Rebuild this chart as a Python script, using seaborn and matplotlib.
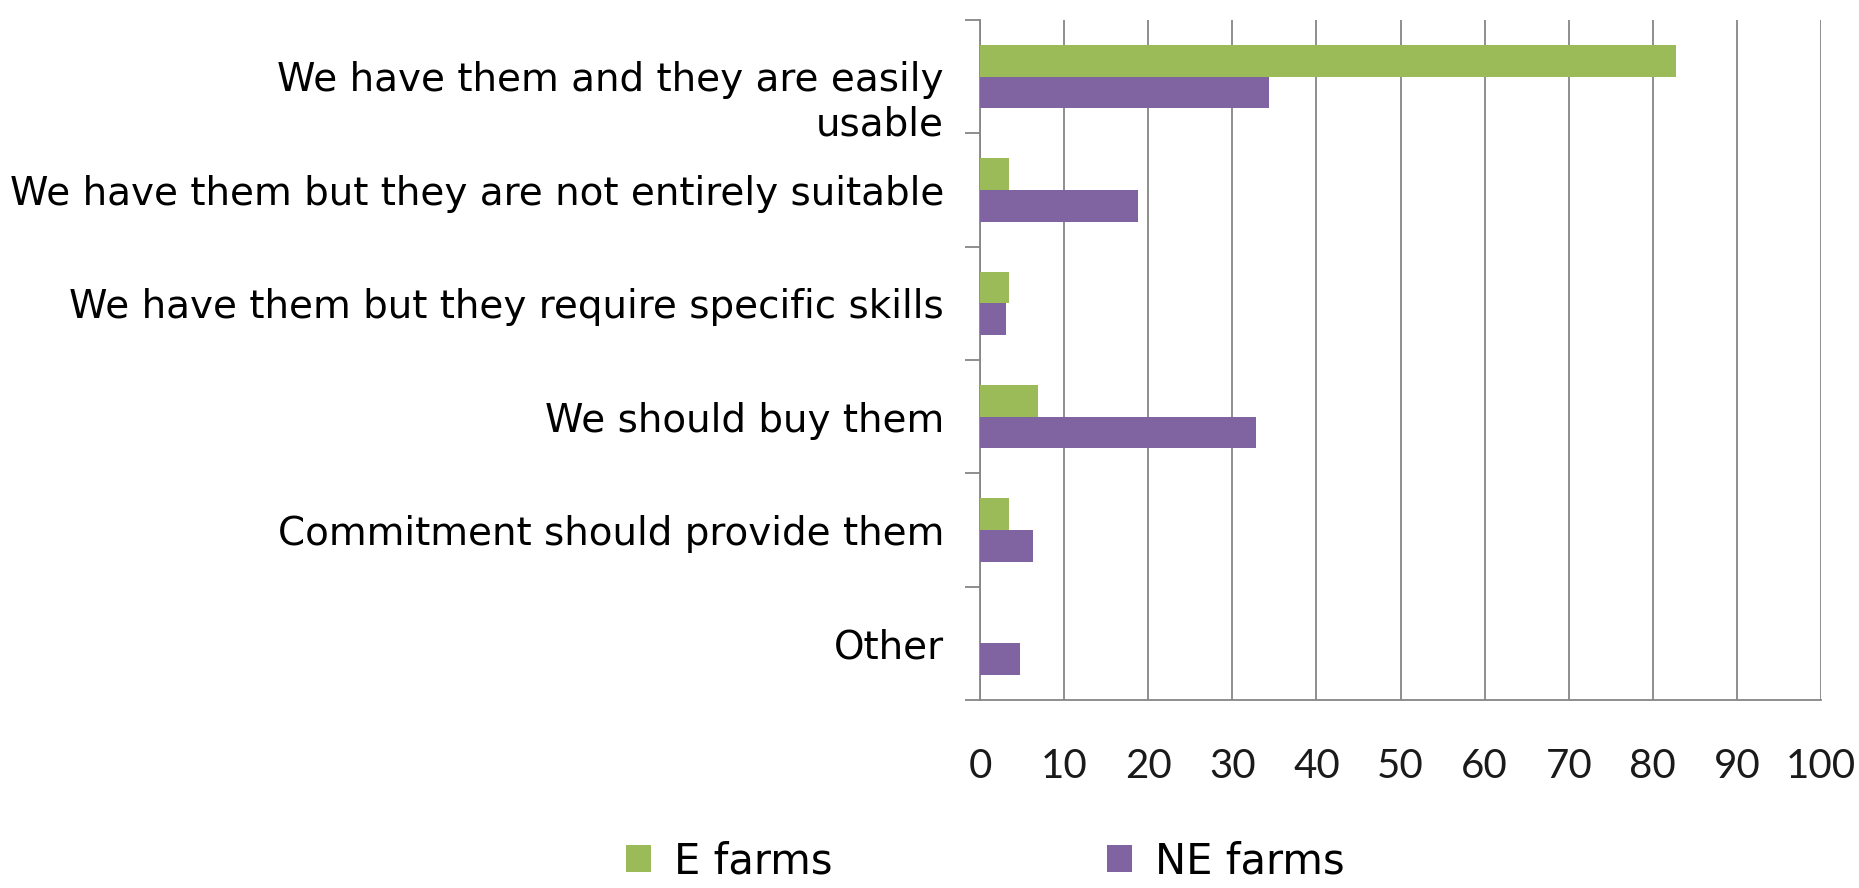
import numpy as np
import pandas as pd
import matplotlib
matplotlib.use('Agg')
import matplotlib.pyplot as plt
import matplotlib.transforms as mtransforms
import seaborn as sns
from matplotlib import font_manager
from matplotlib.ticker import FixedLocator

# survey answers (percent of farms)
categories = [
    'We have them and they are easily\nusable',
    'We have them but they are not entirely suitable',
    'We have them but they require specific skills',
    'We should buy them',
    'Commitment should provide them',
    'Other',
]
e_farms = [82.8, 3.4, 3.4, 6.9, 3.4, 0.0]
ne_farms = [34.4, 18.8, 3.1, 32.8, 6.3, 4.7]
series_names = ['E farms', 'NE farms']
x_ticks = list(range(0, 101, 10))

GREEN = '#9bbb59'
PURPLE = '#8064a2'
GRID = '#868686'

sns.set_style('white')

label_size = 28
legend_size = 30

df = pd.DataFrame({
    'answer': categories * 2,
    'value': e_farms + ne_farms,
    'group': [series_names[0]] * len(categories) + [series_names[1]] * len(categories),
})

fig = plt.figure(figsize=(18.59, 8.88), dpi=100)
ax = fig.add_axes([0.5272, 0.2117, 0.4524, 0.7658])

sns.barplot(data=df, x='value', y='answer', hue='group', orient='h',
            palette=[GREEN, PURPLE], width=0.56, saturation=1, linewidth=0,
            order=categories, hue_order=series_names, ax=ax, zorder=3)

handles, labels = ax.get_legend_handles_labels()
ax.get_legend().remove()

ax.set_xlim(0, 100)
ax.set_ylim(len(categories) - 0.5, -0.5)
ax.set_xlabel('')
ax.set_ylabel('')

# vertical gridlines only
ax.set_xticks(x_ticks)
ax.xaxis.grid(True, color=GRID, lw=1.3, zorder=0)
ax.yaxis.grid(False)
ax.set_axisbelow(True)

for side in ['top', 'right']:
    ax.spines[side].set_visible(False)
for side in ['left', 'bottom']:
    ax.spines[side].set_color(GRID)
    ax.spines[side].set_linewidth(1.3)

ax.tick_params(axis='x', which='major', direction='out', length=9.5, width=1.3,
               color=GRID, pad=25, labelsize=29, labelcolor='#1a1a1a')
for t in ax.get_xticklabels():
    t.set_fontfamily('Lato')

# separators between categories, Excel style
ax.yaxis.set_minor_locator(FixedLocator(np.arange(-0.5, len(categories), 1.0)))
ax.tick_params(axis='y', which='minor', direction='out', length=11, width=1.3,
               color=GRID, left=True)
ax.tick_params(axis='y', which='major', length=0, pad=26)
ax.set_yticks(range(len(categories)))
ax.set_yticklabels(categories, fontsize=label_size, fontfamily='DejaVu Sans',
                   color='black')

# wrapped label: first line sits on the category centre, second hangs below
first = ax.get_yticklabels()[0]
first.set_verticalalignment('top')
first.set_transform(first.get_transform() +
                    mtransforms.ScaledTranslation(0, 0.40 * label_size / 72,
                                                  fig.dpi_scale_trans))

leg = fig.legend(handles, labels, loc='center', bbox_to_anchor=(0.53, 0.03), ncol=2,
                 frameon=False, handlelength=0.6, handleheight=0.6,
                 handletextpad=0.55, columnspacing=6.6, borderpad=0.1,
                 prop=font_manager.FontProperties(family='DejaVu Sans',
                                                  size=legend_size))
for t in leg.get_texts():
    t.set_color('black')

fig.savefig('out.png', dpi=100, facecolor='white')
